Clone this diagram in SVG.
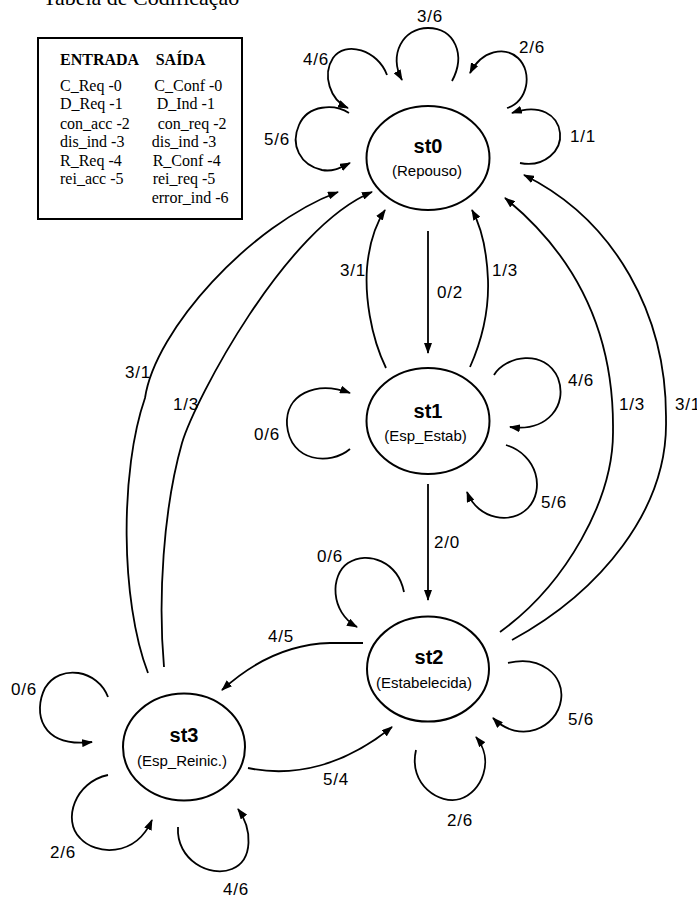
<svg xmlns="http://www.w3.org/2000/svg" width="697" height="900" viewBox="0 0 697 900">
<style>
.st{fill:#fff;stroke:#000;stroke-width:2}
.nm{font-family:"Liberation Sans",Arial,sans-serif;font-weight:bold;font-size:20px;text-anchor:middle}
.sub{font-family:"Liberation Sans",Arial,sans-serif;font-size:15px;text-anchor:middle}
.lb{font-family:"Liberation Sans",Arial,sans-serif;font-size:17px;letter-spacing:0.8px}
.ed{fill:none;stroke:#000;stroke-width:1.8;marker-end:url(#ah)}
.lg{font-family:"Liberation Serif","Times New Roman",serif;font-size:16px}
</style>
<defs>
<marker id="ah" markerUnits="userSpaceOnUse" markerWidth="11" markerHeight="8" refX="10" refY="4" orient="auto">
<path d="M0,0 L11,4 L0,8 z" fill="#000"/>
</marker>
</defs>
<rect width="697" height="900" fill="#fff"/>
<text x="43" y="5" font-family="'Liberation Serif','Times New Roman',serif" font-size="22">Tabela de Codificação</text>
<g id="legend">
<rect x="38" y="38" width="204" height="181" fill="none" stroke="#000" stroke-width="2"/>
<text class="lg" x="60" y="65" font-weight="bold">ENTRADA</text>
<text class="lg" x="155.7" y="65" font-weight="bold">SAÍDA</text>
<text class="lg" x="60" y="91">C_Req -0</text>
<text class="lg" x="60" y="109">D_Req -1</text>
<text class="lg" x="60" y="129">con_acc -2</text>
<text class="lg" x="60" y="147">dis_ind -3</text>
<text class="lg" x="60" y="166">R_Req -4</text>
<text class="lg" x="60" y="184">rei_acc -5</text>
<text class="lg" x="154.3" y="91">C_Conf -0</text>
<text class="lg" x="156.7" y="109">D_Ind -1</text>
<text class="lg" x="157.7" y="129">con_req -2</text>
<text class="lg" x="151.7" y="147">dis_ind -3</text>
<text class="lg" x="152.7" y="166">R_Conf -4</text>
<text class="lg" x="152.7" y="184">rei_req -5</text>
<text class="lg" x="151.7" y="203">error_ind -6</text>
</g>
<g id="st0">
<ellipse class="st" cx="428" cy="158" rx="61.5" ry="52"/>
<text class="nm" x="428" y="153">st0</text>
<text class="sub" x="427" y="176">(Repouso)</text>
</g>
<g id="st1">
<ellipse class="st" cx="428" cy="421" rx="61.5" ry="53"/>
<text class="nm" x="428" y="418">st1</text>
<text class="sub" x="425.5" y="441">(Esp_Estab)</text>
</g>
<g id="st2">
<ellipse class="st" cx="428" cy="669" rx="61" ry="52.5"/>
<text class="nm" x="429" y="664">st2</text>
<text class="sub" x="424" y="688">(Estabelecida)</text>
</g>
<g id="st3">
<ellipse class="st" cx="184" cy="747" rx="61" ry="53.5"/>
<text class="nm" x="184" y="742">st3</text>
<text class="sub" x="182" y="766">(Esp_Reinic.)</text>
</g>
<g id="connectors">
<path class="ed" d="M452,81 C466,55 455,28 428,28 C403,28 388,55 402,80"/>
<path class="ed" d="M387,75 C378,50 345,40 333,58 C322,75 330,100 348,108"/>
<path class="ed" d="M349,113 C335,104 308,104 299,125 C290,145 300,165 322,170 C333,172 340,168 350,163"/>
<path class="ed" d="M507,108 C528,102 533,72 518,58 C505,46 482,50 470,73"/>
<path class="ed" d="M520,163 C545,168 562,150 560,133 C558,115 540,103 512,113"/>
<path class="ed" d="M428,231 L428,353"/>
<path class="ed" d="M386,368 C370,335 365,295 367,268 C369,245 375,225 385,210"/>
<path class="ed" d="M470,367 C482,340 489,310 488,280 C487,255 482,228 472,210"/>
<path class="ed" d="M148,673 C120,600 120,470 145,398 C155,330 250,225 338,192"/>
<path class="ed" d="M164,667 C158,600 163,510 182,443 C195,400 285,228 372,192"/>
<path class="ed" d="M500,632 C565,585 614,500 613,430 C614,330 575,255 505,198"/>
<path class="ed" d="M512,640 C600,592 668,510 666,420 C667,315 615,220 524,175"/>
<path class="ed" d="M350,449 C330,466 290,462 287,425 C285,395 315,380 350,393"/>
<path class="ed" d="M494,375 C505,356 545,348 558,378 C568,405 548,432 510,427"/>
<path class="ed" d="M506,445 C538,455 545,490 528,508 C512,525 478,520 467,492"/>
<path class="ed" d="M428,484 L428,600"/>
<path class="ed" d="M404,592 C398,562 368,550 348,563 C330,575 330,612 357,627"/>
<path class="ed" d="M363,643 L330,643 C290,644 255,660 222,690"/>
<path class="ed" d="M248,768 C295,778 345,765 392,727"/>
<path class="ed" d="M508,663 C540,655 565,675 561,700 C557,728 520,745 493,718"/>
<path class="ed" d="M416,750 C408,785 440,805 460,799 C482,792 495,760 476,737"/>
<path class="ed" d="M108,697 C98,670 60,663 45,688 C33,712 40,748 92,742"/>
<path class="ed" d="M108,775 C75,782 62,820 80,838 C95,855 135,858 152,820"/>
<path class="ed" d="M178,827 C176,860 210,878 232,869 C254,860 252,828 238,809"/>
</g>
<g id="labels">
<text class="lb" x="417" y="22">3/6</text>
<text class="lb" x="303" y="65">4/6</text>
<text class="lb" x="519" y="53">2/6</text>
<text class="lb" x="264" y="145">5/6</text>
<text class="lb" x="570" y="142">1/1</text>
<text class="lb" x="340" y="276">3/1</text>
<text class="lb" x="437" y="298">0/2</text>
<text class="lb" x="492" y="276">1/3</text>
<text class="lb" x="125" y="378">3/1</text>
<text class="lb" x="173" y="410">1/3</text>
<text class="lb" x="254" y="440">0/6</text>
<text class="lb" x="568" y="386">4/6</text>
<text class="lb" x="619" y="410">1/3</text>
<text class="lb" x="675" y="410">3/1</text>
<text class="lb" x="541" y="508">5/6</text>
<text class="lb" x="434" y="548">2/0</text>
<text class="lb" x="317" y="562">0/6</text>
<text class="lb" x="268" y="642">4/5</text>
<text class="lb" x="568" y="725">5/6</text>
<text class="lb" x="11" y="695">0/6</text>
<text class="lb" x="323" y="785">5/4</text>
<text class="lb" x="447" y="826">2/6</text>
<text class="lb" x="50" y="858">2/6</text>
<text class="lb" x="223" y="895">4/6</text>
</g>
</svg>
